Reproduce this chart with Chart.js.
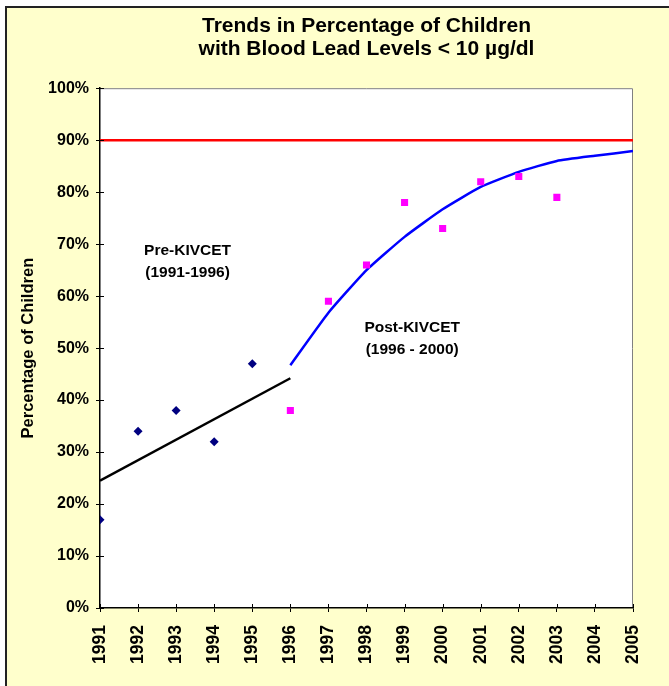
<!DOCTYPE html>
<html>
<head>
<meta charset="utf-8">
<script src="https://cdn.jsdelivr.net/npm/chart.js@4"></script>
<style>
  html, body { margin: 0; padding: 0; background: #ffffff; }
  canvas { display: block; }
</style>
</head>
<body>
<canvas id="chart" width="669" height="686"></canvas>
<script>
// Measured percentages of children with blood lead below 10 µg/dl
const preYears = [1991, 1992, 1993, 1994, 1995];
const preValues = [17, 34, 38, 32, 47];
const postYears = [1996, 1997, 1998, 1999, 2000, 2001, 2002, 2003];
const postValues = [38, 59, 66, 78, 73, 82, 83, 79];

// Fitted trend lines
const preTrendYears = [1991, 1996];
const preTrendValues = [24.5, 44.2];
const postTrendYears = [1996, 1997, 1998, 1999, 2000, 2001, 2002, 2003, 2004, 2005];
const postTrendValues = [46.7, 56.8, 65, 71.4, 76.7, 81, 83.9, 86, 87, 87.9];

// 90% goal line
const goalYears = [1991, 2005];
const goalValues = [90, 90];

// Axis ranges
const yearMin = 1991, yearMax = 2005;
const pctMin = 0, pctMax = 100, pctStep = 10;

const titleLines = ['Trends in Percentage of Children', 'with Blood Lead Levels < 10 µg/dl'];
const yAxisTitle = 'Percentage of Children';
const notes = [
  { lines: ['Pre-KIVCET', '(1991-1996)'], year: 1993.3, pct: 66.6 },
  { lines: ['Post-KIVCET', '(1996 - 2000)'], year: 1999.2, pct: 51.8 }
];

const FONT = '"Liberation Sans", Arial, Helvetica, sans-serif';
const pts = (xs, ys) => xs.map((x, i) => ({ x: x, y: ys[i] }));

// Page frame, white plot area and inward tick marks
const framePlugin = {
  id: 'frame',
  beforeDraw(chart) {
    const { ctx, width, height, chartArea: a } = chart;
    ctx.save();
    ctx.fillStyle = '#ffffff';
    ctx.fillRect(0, 0, width, height);
    ctx.fillStyle = '#ffffcc';
    ctx.fillRect(5, 6, width - 5, height - 6);
    ctx.fillStyle = '#222222';
    ctx.fillRect(5, 6, 2, height - 6);
    ctx.fillRect(5, 6, width - 5, 2);
    ctx.fillStyle = '#ffffff';
    ctx.fillRect(a.left, a.top, a.right - a.left, a.bottom - a.top);
    ctx.strokeStyle = '#808080';
    ctx.lineWidth = 1;
    ctx.beginPath();
    ctx.moveTo(a.left, a.top + 0.5);
    ctx.lineTo(a.right - 0.5, a.top + 0.5);
    ctx.lineTo(a.right - 0.5, a.bottom);
    ctx.stroke();
    ctx.restore();
  },
  afterDraw(chart) {
    const { ctx, chartArea: a, scales } = chart;
    ctx.save();
    ctx.strokeStyle = '#000000';
    ctx.lineWidth = 1;
    ctx.beginPath();
    scales.y.ticks.forEach((t, i) => {
      const y = Math.round(scales.y.getPixelForTick(i)) + 0.5;
      ctx.moveTo(a.left, y);
      ctx.lineTo(a.left + 4, y);
    });
    scales.x.ticks.forEach((t, i) => {
      const x = Math.round(scales.x.getPixelForTick(i)) + 0.5;
      ctx.moveTo(x, a.bottom);
      ctx.lineTo(x, a.bottom - 4);
    });
    ctx.stroke();
    ctx.restore();
  },
  afterDatasetsDraw(chart) {
    const { ctx, scales } = chart;
    ctx.save();
    ctx.fillStyle = '#000000';
    ctx.font = 'bold 15.5px ' + FONT;
    ctx.textAlign = 'center';
    ctx.textBaseline = 'middle';
    notes.forEach(n => {
      const cx = scales.x.getPixelForValue(n.year);
      const cy = scales.y.getPixelForValue(n.pct);
      ctx.fillText(n.lines[0], cx, cy - 11);
      ctx.fillText(n.lines[1], cx, cy + 11);
    });
    ctx.restore();
  }
};

new Chart(document.getElementById('chart'), {
  type: 'scatter',
  data: {
    datasets: [
      {
        label: 'Pre-KIVCET',
        data: pts(preYears, preValues),
        pointStyle: 'rectRot',
        pointRadius: 4.5,
        backgroundColor: '#000080',
        borderColor: '#000080',
        borderWidth: 0
      },
      {
        label: 'Post-KIVCET',
        data: pts(postYears, postValues),
        pointStyle: 'rect',
        pointRadius: 5,
        backgroundColor: '#ff00ff',
        borderColor: '#ff00ff',
        borderWidth: 0
      },
      {
        label: 'Pre-KIVCET trend',
        data: pts(preTrendYears, preTrendValues),
        showLine: true,
        pointRadius: 0,
        borderColor: '#000000',
        borderWidth: 2.5
      },
      {
        label: 'Post-KIVCET trend',
        data: pts(postTrendYears, postTrendValues),
        showLine: true,
        pointRadius: 0,
        borderColor: '#0000ff',
        borderWidth: 2.5,
        tension: 0.15
      },
      {
        label: 'Goal',
        data: pts(goalYears, goalValues),
        showLine: true,
        pointRadius: 0,
        borderColor: '#ff0000',
        borderWidth: 2.5
      }
    ]
  },
  options: {
    responsive: false,
    animation: false,
    layout: { padding: { left: 7, top: 7, right: 36, bottom: 0 } },
    plugins: {
      legend: { display: false },
      tooltip: { enabled: false },
      title: {
        display: true,
        text: titleLines,
        fullSize: false,
        color: '#000000',
        font: { family: FONT, size: 21, weight: 'bold', lineHeight: 1.1 },
        padding: { top: 8, bottom: 27 }
      }
    },
    scales: {
      x: {
        type: 'linear',
        min: yearMin,
        max: yearMax,
        afterFit: s => { s.height = 78; },
        grid: { display: true, drawOnChartArea: false, drawTicks: true, tickLength: 4, color: '#000000' },
        border: { display: true, color: '#000000', width: 1.5 },
        ticks: {
          stepSize: 1,
          autoSkip: false,
          maxRotation: 90,
          minRotation: 90,
          padding: 13,
          color: '#000000',
          font: { family: FONT, size: 17.5, weight: 'bold' },
          callback: v => String(v)
        }
      },
      y: {
        type: 'linear',
        min: pctMin,
        max: pctMax,
        afterFit: s => { s.width = 93; },
        grid: { display: true, drawOnChartArea: false, drawTicks: true, tickLength: 4, color: '#000000' },
        border: { display: true, color: '#000000', width: 1.5 },
        ticks: {
          stepSize: pctStep,
          padding: 7,
          color: '#000000',
          font: { family: FONT, size: 16, weight: 'bold' },
          callback: v => v + '%'
        },
        title: {
          display: true,
          text: yAxisTitle,
          color: '#000000',
          font: { family: FONT, size: 16.5, weight: 'bold' },
          padding: { top: 12, bottom: 0 }
        }
      }
    }
  },
  plugins: [framePlugin]
});
</script>
</body>
</html>
